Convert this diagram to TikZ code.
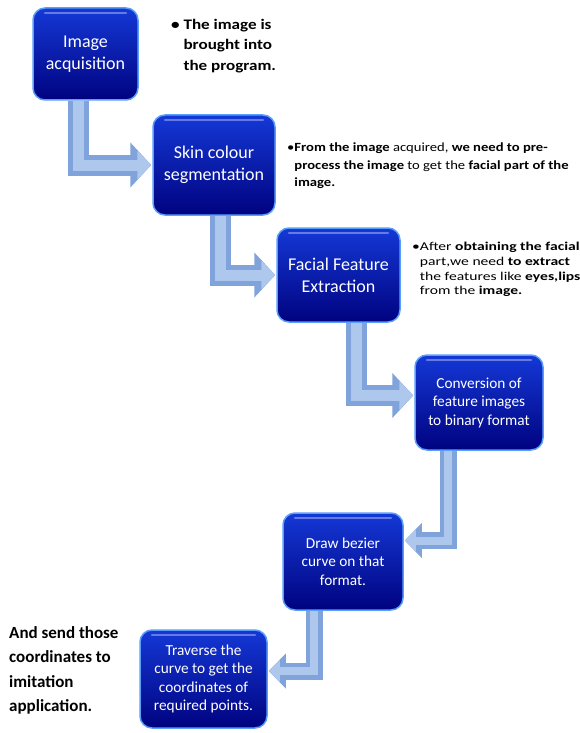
\documentclass[tikz,border=0pt]{standalone}
\usepackage{fontspec}
\setmainfont{Carlito}
\newfontfamily\notefont[FakeStretch=1.17]{Carlito}
\newfontfamily\notewidefont[FakeStretch=1.3]{Carlito}
\usetikzlibrary{arrows.meta, positioning, calc, backgrounds}
\definecolor{BoxTop}{rgb}{0.08, 0.22, 0.84}
\definecolor{BoxBottom}{rgb}{0.00, 0.01, 0.50}
\definecolor{BoxEdge}{rgb}{0.35, 0.62, 0.98}
\definecolor{ArrowBlue}{rgb}{0.50, 0.64, 0.86}
\definecolor{ArrowLight}{rgb}{0.68, 0.78, 0.93}

\begin{document}
\begin{tikzpicture}[x=1pt, y=-1pt,
    blk/.style={draw=BoxEdge, line width=1.5pt, rounded corners=12pt, top color=BoxTop,
        bottom color=BoxBottom, text=white, align=center, inner sep=2pt,
        font=\fontsize{18}{22}\selectfont,
        path picture={\draw[white, opacity=0.35, line width=2.5pt, line cap=round, sharp corners]
            ([xshift=12pt, yshift=-5pt]path picture bounding box.north west) --
            ([xshift=-12pt, yshift=-5pt]path picture bounding box.north east);}},
    blksmall/.style={blk, font=\fontsize{15.3}{18.5}\selectfont},
    note/.style={anchor=north west, align=left, inner sep=0pt},
    flow/.style={-{Triangle[length=21pt, width=44pt]}, line width=21pt, ArrowBlue},
    flowin/.style={-{Triangle[length=14pt, width=28pt]}, line width=11pt, ArrowLight},
    flowsmall/.style={flow, -{Triangle[length=17pt, width=34pt]}, line width=17pt},
    flowsmallin/.style={flowin, -{Triangle[length=11pt, width=21pt]}, line width=8pt},
]
\useasboundingbox (0,0) rectangle (579,733);

% ================= steps =================
\node[blk, minimum width=105pt, minimum height=92pt] (acq) at (85.5,54) {Image\\acquisition};
\node[blk, minimum width=122pt, minimum height=100pt] (skin) at (214,165) {Skin colour\\segmentation};
\node[blk, minimum width=123pt, minimum height=94pt] (feat) at (338.5,275) {Facial Feature\\Extraction};
\node[blksmall, minimum width=128pt, minimum height=95pt] (bin) at (479,402.5) {Conversion of\\feature images\\to binary format};
\node[blksmall, minimum width=120pt, minimum height=97pt] (bez) at (343,561.5) {Draw bezier\\curve on that\\format.};
\node[blksmall, minimum width=127pt, minimum height=98pt] (trav) at (203.5,679) {Traverse the\\curve to get the\\coordinates of\\required points.};

% ================= bent arrows =================
\begin{scope}[on background layer]
    \foreach \fl in {flow, flowin} {
        \draw[\fl] ([xshift=-7pt]acq.south) |- ([xshift=-1pt]skin.west);
        \draw[\fl] ([xshift=6pt]skin.south) |- ([xshift=-1pt]feat.west);
        \draw[\fl] ([xshift=18pt]feat.south) |- ([xshift=-1pt, yshift=7pt]bin.west);
    }
    \foreach \fl in {flowsmall, flowsmallin} {
        \draw[\fl] ([xshift=-31pt]bin.south) |- ([xshift=1pt, yshift=21pt]bez.east);
        \draw[\fl] ([xshift=-29pt]bez.south) |- ([xshift=1pt, yshift=8pt]trav.east);
    }
\end{scope}

% ================= notes =================
\node[note, font=\notefont\bfseries\fontsize{14.6}{20.5}\selectfont] (nacq) at (171,19)
    {\textbullet\ The image is\\\phantom{\textbullet\ }brought into\\\phantom{\textbullet\ }the program.};
\node[note, font=\notefont\fontsize{12.5}{17.5}\selectfont] (nskin) at (287,143)
    {\textbullet\textbf{From the image} acquired, \textbf{we need to pre-}\\
     \phantom{\textbullet}\textbf{process the image} to get the \textbf{facial part of the}\\
     \phantom{\textbullet}\textbf{image.}};
\node[note, font=\notewidefont\fontsize{12}{14.7}\selectfont] (nfeat) at (412,242)
    {\textbullet After \textbf{obtaining the facial}\\
     \phantom{\textbullet}part,we need \textbf{to extract}\\
     \phantom{\textbullet}the features like \textbf{eyes,lips}\\
     \phantom{\textbullet}from the \textbf{image.}};
\node[note, font=\bfseries\fontsize{17}{24.5}\selectfont] (ntrav) at (9,626)
    {And send those\\coordinates to\\imitation\\application.};

\end{tikzpicture}
\end{document}
